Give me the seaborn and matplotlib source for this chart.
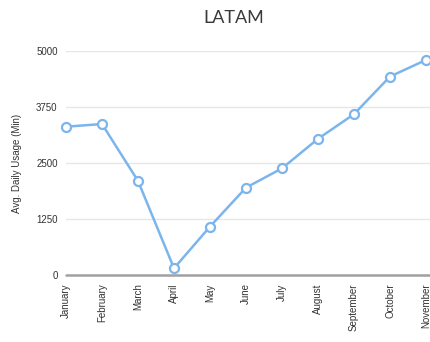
import matplotlib
matplotlib.use("Agg")
import matplotlib.pyplot as plt
import seaborn as sns
import pandas as pd

months = ["January", "February", "March", "April", "May", "June", "July",
          "August", "September", "October", "November"]
usage = [3310, 3370, 2100, 150, 1080, 1950, 2380, 3040, 3590, 4430, 4800]
y_ticks = [0, 1250, 2500, 3750, 5000]

df = pd.DataFrame({"month": months, "usage": usage, "pos": range(len(months))})

sns.set_style("white")
plt.rcParams["font.family"] = ["Liberation Sans", "DejaVu Sans"]

fig = plt.figure(figsize=(4.30, 3.42), dpi=100)
ax = fig.add_axes([66 / 430, 1 - 275 / 342, 364 / 430, (275 - 51) / 342])

line_color = "#7cb5ec"
sns.lineplot(data=df, x="pos", y="usage", ax=ax, color=line_color, linewidth=1.8,
             marker="o", markersize=6.5, markerfacecolor="white",
             markeredgecolor=line_color, markeredgewidth=1.6, clip_on=False, zorder=5)

ax.set_xlim(0, 364 / 36)
ax.set_ylim(0, 5000)
ax.set_yticks(y_ticks)
ax.set_yticklabels([str(v) for v in y_ticks], fontsize=7, color="#333333")
ax.set_xticks(df["pos"])
ax.set_xticklabels(months, rotation=90, fontsize=7, color="#333333", va="top")
ax.tick_params(axis="both", length=0, pad=6)
ax.tick_params(axis="x", pad=6)

for v in y_ticks[1:]:
    ax.axhline(v, color="#e6e6e6", linewidth=1, zorder=0)
ax.axhline(0, color="#a0a0a0", linewidth=1.8, zorder=1, clip_on=False)

for s in ax.spines.values():
    s.set_visible(False)

ax.set_xlabel("")
ax.set_ylabel("Avg. Daily Usage (Min)", fontsize=7, color="#333333", labelpad=10)
fig.text(234 / 430, 1 - 18 / 342, "LATAM", ha="center", va="center",
         fontsize=13, color="#3a3a3a", family=["Lato", "DejaVu Sans"])

fig.savefig("out.png", dpi=100)
